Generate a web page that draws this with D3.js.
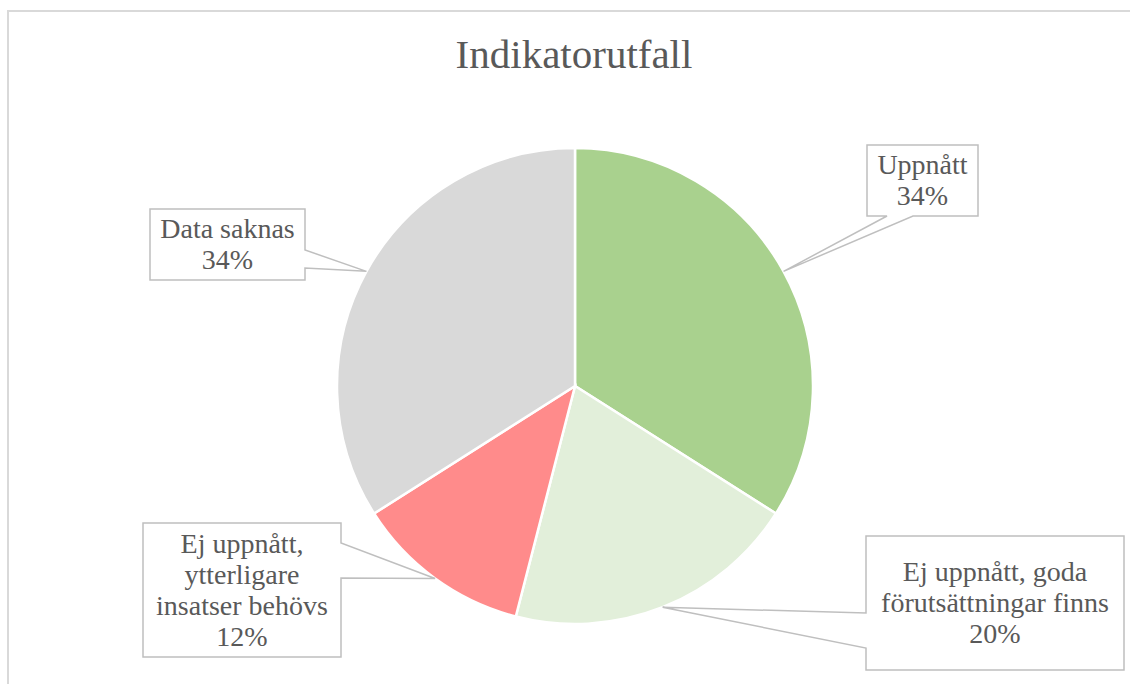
<!DOCTYPE html>
<html>
<head>
<meta charset="utf-8">
<script src="https://cdn.jsdelivr.net/npm/d3@7"></script>
<style>
    html, body { margin: 0; padding: 0; background: #ffffff; }
    svg { display: block; }
</style>
</head>
<body>
<div id="chart"></div>
<script>

// chart data
var categories = ["Uppnått", "Ej uppnått, goda förutsättningar finns", "Ej uppnått, ytterligare insatser behövs", "Data saknas"];
var values = [34, 20, 12, 34];
var labelLines = [
    ["Uppnått"],
    ["Ej uppnått, goda", "förutsättningar finns"],
    ["Ej uppnått,", "ytterligare", "insatser behövs"],
    ["Data saknas"]
];
var colors = ["#a9d18e", "#e2efda", "#ff8b8b", "#d9d9d9"];
var title = "Indikatorutfall";

// layout
var width = 1130, height = 684;
var cx = 575, cy = 386, radius = 238;
var serif = "'Liberation Serif', 'DejaVu Serif', serif";

// callout boxes (x0, y0, x1, y1, side where the pointer leaves, pointer base)
var boxes = [
    {x0: 867, y0: 145, x1: 978, y1: 216, side: "bottom", a: [887, 913]},
    {x0: 866, y0: 536, x1: 1124, y1: 670, side: "left", a: [613, 648]},
    {x0: 143, y0: 523, x1: 341, y1: 657, side: "right", a: [543, 578]},
    {x0: 150, y0: 209, x1: 305, y1: 280, side: "right", a: [250, 268]}
];

var svg = d3.select("#chart").append("svg")
    .attr("width", width)
    .attr("height", height);

// chart area border
svg.append("rect")
    .attr("x", 8)
    .attr("y", 11)
    .attr("width", 1140)
    .attr("height", 700)
    .attr("fill", "none")
    .attr("stroke", "#d9d9d9")
    .attr("stroke-width", 2);

// title
svg.append("text")
    .attr("x", 574)
    .attr("y", 68)
    .attr("text-anchor", "middle")
    .style("font-family", serif)
    .style("font-size", "41px")
    .style("fill", "#595959")
    .text(title);

var pie = d3.pie()
    .sort(null)
    .value(function(d) { return d; });

var arcs = pie(values);

var arc = d3.arc()
    .innerRadius(0)
    .outerRadius(radius);

var edge = d3.arc()
    .innerRadius(radius)
    .outerRadius(radius);

var g = svg.append("g")
    .attr("transform", "translate(" + cx + "," + cy + ")");

g.selectAll(".slice")
    .data(arcs)
    .enter().append("path")
    .attr("class", "slice")
    .attr("d", arc)
    .attr("fill", function(d, i) { return colors[i]; })
    .attr("stroke", "#ffffff")
    .attr("stroke-width", 2.5);

// callout outline with the pointer to the slice edge
function calloutPath(b, v) {
    var pts = [[b.x0, b.y0], [b.x1, b.y0]];
    if (b.side === "right") pts.push([b.x1, b.a[0]], v, [b.x1, b.a[1]]);
    pts.push([b.x1, b.y1]);
    if (b.side === "bottom") pts.push([b.a[1], b.y1], v, [b.a[0], b.y1]);
    pts.push([b.x0, b.y1]);
    if (b.side === "left") pts.push([b.x0, b.a[1]], v, [b.x0, b.a[0]]);
    return d3.line()(pts) + "Z";
}

var fontSize = 28, lineHeight = 31;

arcs.forEach(function(d, i) {
    var c = edge.centroid(d);
    var v = [cx + c[0], cy + c[1]];
    var b = boxes[i];

    svg.append("path")
        .attr("d", calloutPath(b, v))
        .attr("fill", "#ffffff")
        .attr("stroke", "#bfbfbf")
        .attr("stroke-width", 1.5)
        .attr("stroke-linejoin", "miter");

    var lines = labelLines[i].concat([values[i] + "%"]);
    var midY = (b.y0 + b.y1) / 2;
    var firstY = midY - (lines.length - 1) / 2 * lineHeight + 9;

    var t = svg.append("text")
        .attr("text-anchor", "middle")
        .style("font-family", serif)
        .style("font-size", fontSize + "px")
        .style("fill", "#595959");

    lines.forEach(function(line, j) {
        t.append("tspan")
            .attr("x", (b.x0 + b.x1) / 2)
            .attr("y", firstY + j * lineHeight)
            .style("font-family", serif)
            .text(line);
    });
});

</script>
</body>
</html>
